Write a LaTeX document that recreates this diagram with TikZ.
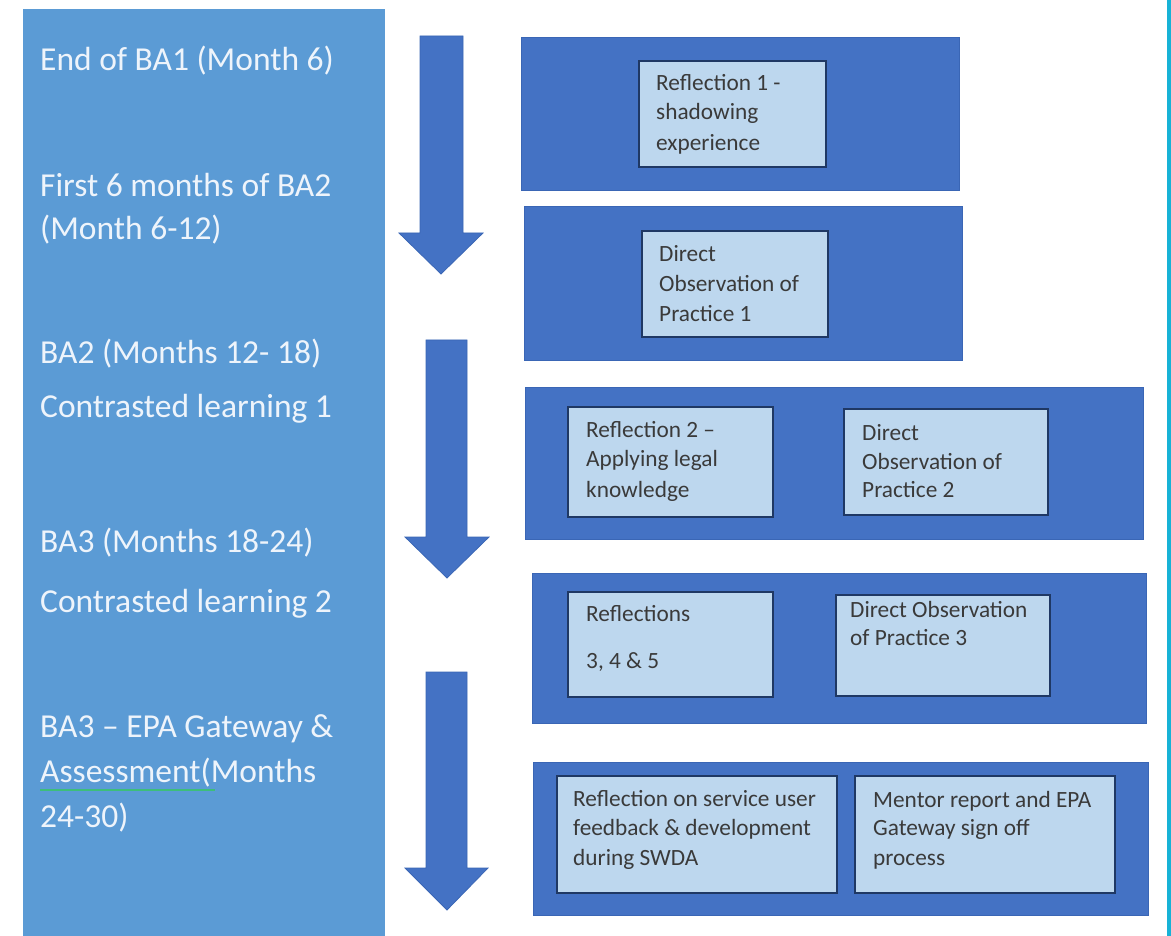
\documentclass[tikz,border=0pt]{standalone}
\usepackage{fontspec}
\setmainfont{Carlito}
\usetikzlibrary{fit}
\definecolor{panelblue}{HTML}{5B9BD5}
\definecolor{boxblue}{HTML}{4472C4}
\definecolor{boxedge}{HTML}{3A66B5}
\definecolor{innerfill}{HTML}{BDD7EE}
\definecolor{inneredge}{HTML}{1F3864}
\definecolor{cyanstrip}{HTML}{17B2D6}
\definecolor{lefttext}{HTML}{EEF4FB}
\definecolor{boxtext}{HTML}{3A3A3A}
\definecolor{squiggle}{HTML}{3DBE7A}
\begin{document}
\begin{tikzpicture}[x=1pt,y=-1pt,
  panel/.style={fill=panelblue, inner sep=0pt},
  outerbox/.style={fill=boxblue, draw=boxedge, line width=1pt, inner sep=0pt},
  innerbox/.style={fill=innerfill, draw=inneredge, line width=1.8pt, inner sep=0pt},
  blockarrow/.style={fill=boxblue, draw=boxedge, line width=0.8pt, line join=miter},
  lefttxt/.style={anchor=base west, inner sep=0pt, text=lefttext, font=\fontsize{33.5}{40}\selectfont},
  boxtxt/.style={anchor=base west, inner sep=0pt, text=boxtext, font=\fontsize{23.3}{28}\selectfont}
]
\useasboundingbox (0,0) rectangle (1171,936);
\fill[white] (0,0) rectangle (1171,936);
\fill[cyanstrip] (1167,0) rectangle (1171,936);

% left panel
\node[panel, fit={(23,9) (385,936)}] (panel) {};

% block arrows
\fill[blockarrow] (420,36) -- (463,36) -- (463,233) -- (483,233) -- (441,274) -- (399,233) -- (420,233) -- cycle;
\fill[blockarrow] (426,340) -- (467,340) -- (467,537) -- (489,537) -- (447,578) -- (405,537) -- (426,537) -- cycle;
\fill[blockarrow] (426,672) -- (467,672) -- (467,868) -- (488,868) -- (447,910) -- (405,868) -- (426,868) -- cycle;

% outer boxes
\node[outerbox, fit={(521,38) (959,191)}] (b1) {};
\node[outerbox, fit={(524,207) (962,360)}] (b2) {};
\node[outerbox, fit={(525,387) (1143,539)}] (b3) {};
\node[outerbox, fit={(532,573) (1146,723)}] (b4) {};
\node[outerbox, fit={(533,762) (1148,915)}] (b5) {};

% inner boxes
\node[innerbox, fit={(639,61) (826,167)}] (i1) {};
\node[innerbox, fit={(642,231) (828,337)}] (i2) {};
\node[innerbox, fit={(568,407) (773,517)}] (i3a) {};
\node[innerbox, fit={(844,409) (1048,515)}] (i3b) {};
\node[innerbox, fit={(568,592) (773,697)}] (i4a) {};
\node[innerbox, fit={(836,595) (1050,696)}] (i4b) {};
\node[innerbox, fit={(557,776) (837,893)}] (i5a) {};
\node[innerbox, fit={(855,776) (1115,893)}] (i5b) {};

% left panel texts
\node[lefttxt] (l1) at (40,71) {End of BA1 (Month 6)};
\node[lefttxt] (l2) at (40,197) {First 6 months of BA2};
\node[lefttxt] (l3) at (40,240) {(Month 6-12)};
\node[lefttxt] (l4) at (40,363) {BA2 (Months 12- 18)};
\node[lefttxt] (l5) at (40,417) {Contrasted learning 1};
\node[lefttxt] (l6) at (40,552) {BA3 (Months 18-24)};
\node[lefttxt] (l7) at (40,612) {Contrasted learning 2};
\node[lefttxt] (l8) at (40,737) {BA3 – EPA Gateway \&};
\node[lefttxt] (l9) at (40,782) {Assessment(Months};
\node[lefttxt] (l10) at (40,827) {24-30)};
\draw[squiggle, line width=2.2pt] (40,790) -- (215,790);

% box texts
\node[boxtxt] (t1a) at (656,91) {Reflection 1 -};
\node[boxtxt] (t1b) at (656,120) {shadowing};
\node[boxtxt] (t1c) at (656,151) {experience};

\node[boxtxt] (t2a) at (659,262) {Direct};
\node[boxtxt] (t2b) at (659,292) {Observation of};
\node[boxtxt] (t2c) at (659,322) {Practice 1};

\node[boxtxt] (t3a) at (586,437) {Reflection 2 –};
\node[boxtxt] (t3b) at (586,466) {Applying legal};
\node[boxtxt] (t3c) at (586,497) {knowledge};

\node[boxtxt] (t3d) at (862,440) {Direct};
\node[boxtxt] (t3e) at (862,469) {Observation of};
\node[boxtxt] (t3f) at (862,497) {Practice 2};

\node[boxtxt] (t4a) at (586,621) {Reflections};
\node[boxtxt] (t4b) at (586,668) {3, 4 \& 5};

\node[boxtxt] (t4c) at (850,617) {Direct Observation};
\node[boxtxt] (t4d) at (850,645) {of Practice 3};

\node[boxtxt] (t5a) at (573,806) {Reflection on service user};
\node[boxtxt] (t5b) at (573,835) {feedback \& development};
\node[boxtxt] (t5c) at (573,865) {during SWDA};

\node[boxtxt] (t5d) at (873,807) {Mentor report and EPA};
\node[boxtxt] (t5e) at (873,835) {Gateway sign off};
\node[boxtxt] (t5f) at (873,865) {process};
\end{tikzpicture}
\end{document}
